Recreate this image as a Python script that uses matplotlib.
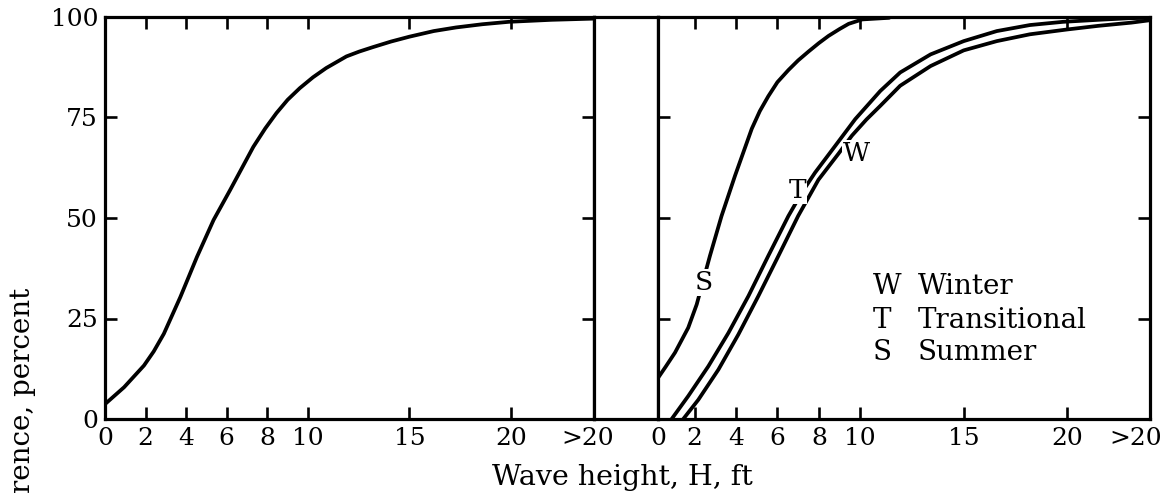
import matplotlib
matplotlib.use("Agg")
import matplotlib.pyplot as plt

plt.rcParams["font.family"] = ["DejaVu Serif"]

# left panel: all seasons together
todo_altura = [0, 0.94, 1.92, 2.4, 2.9, 3.71, 4.53, 5.35, 6.16, 7.31, 7.9, 8.45, 9.0,
               9.6, 10.25, 10.9, 11.9, 12.53, 13.2, 14.1, 15.0, 16.2, 17.3, 18.6,
               19.9, 22.0, 24.1]
todo_pct = [3.7, 7.9, 13.3, 16.8, 21.2, 30.3, 40.3, 49.5, 56.9, 67.7, 72.3, 76.1, 79.4,
            82.3, 85.0, 87.3, 90.2, 91.4, 92.5, 93.9, 95.1, 96.5, 97.4, 98.2,
            98.8, 99.3, 99.6]

# right panel: by season
verano_altura = [0.23, 0.6, 1.05, 1.69, 2.1, 2.74, 3.3, 3.95, 4.76, 5.15, 5.56, 6.0,
                 6.53, 7.0, 7.5, 8.0, 8.47, 9.0, 9.44, 10.1, 11.4]
verano_pct = [10.2, 13.0, 16.5, 22.7, 28.5, 40.6, 50.5, 60.5, 72.2, 76.6, 80.3, 83.8,
              86.8, 89.2, 91.4, 93.5, 95.3, 97.0, 98.3, 99.4, 99.8]

transicion_altura = [0.89, 1.69, 2.66, 3.63, 4.6, 5.56, 6.53, 7.2, 7.82, 8.8, 9.76,
                     10.97, 11.93, 13.4, 15.0, 16.6, 18.2, 19.8, 21.5, 23.0, 24.0]
transicion_pct = [0, 5.7, 13.1, 21.4, 30.6, 40.6, 50.5, 56.5, 61.3, 68.0, 74.6,
                  81.6, 86.2, 90.7, 94.0, 96.5, 98.0, 98.8, 99.3, 99.7, 99.8]

invierno_altura = [1.45, 2.18, 3.15, 4.11, 5.08, 6.05, 7.0, 7.98, 8.95, 9.6, 10.3,
                   10.97, 11.93, 13.4, 15.0, 16.6, 18.2, 20.0, 21.5, 23.1, 24.0]
invierno_pct = [0, 4.8, 12.3, 21.0, 30.6, 40.6, 50.5, 59.5, 66.0, 70.5, 74.5,
                77.9, 82.9, 87.8, 91.7, 94.0, 95.7, 96.9, 97.8, 98.6, 99.2]

ticks_x = [0, 2, 4, 6, 8, 10, 15, 20]
ticks_y = [0, 25, 50, 75, 100]
etiquetas_curvas = [("S", 2.42, 33.9), ("T", 6.98, 56.8), ("W", 9.8, 66.0)]
leyenda = [("W", "Winter"), ("T", "Transitional"), ("S", "Summer")]

ancho, alto = 1164, 499
fig = plt.figure(figsize=(ancho / 100, alto / 100), dpi=100)


def caja(x0, x1, y0=17, y1=419):
    return [x0 / ancho, 1 - y1 / alto, (x1 - x0) / ancho, (y1 - y0) / alto]


ax1 = fig.add_axes(caja(105, 594))
ax_hueco = fig.add_axes(caja(594, 658))
ax2 = fig.add_axes(caja(658, 1150))

for ax in (ax1, ax_hueco, ax2):
    for lado in ax.spines.values():
        lado.set_linewidth(2.3)
        lado.set_color("black")
    ax.set_ylim(0, 100)

ax_hueco.set_xticks([])
ax_hueco.set_yticks([])

estilo = dict(color="black", linewidth=2.7, solid_capstyle="round", solid_joinstyle="round")
ax1.plot(todo_altura, todo_pct, **estilo)
ax2.plot(verano_altura, verano_pct, **estilo)
ax2.plot(transicion_altura, transicion_pct, **estilo)
ax2.plot(invierno_altura, invierno_pct, **estilo)

ax1.set_xlim(0, 24.1)
ax2.set_xlim(0.23, 24.0)

for ax, pos_mayor, pos_cero in ((ax1, 23.8, 0), (ax2, 23.3, 0.23)):
    ax.set_xticks([pos_cero] + ticks_x[1:] + [pos_mayor])
    ax.set_xticklabels(["0"] + [str(t) for t in ticks_x[1:]] + [">20"], fontsize=18)
    ax.set_yticks(ticks_y)
    ax.tick_params(axis="both", which="major", direction="in", length=8.5, width=1.9,
                   top=True, right=True, color="black")
    ax.tick_params(axis="x", pad=6)
    ax.tick_params(axis="y", pad=5)
    for t in (ax.xaxis.get_major_ticks()[0], ax.xaxis.get_major_ticks()[-1]):
        t.tick1line.set_visible(False)
        t.tick2line.set_visible(False)

ax1.set_yticklabels([str(t) for t in ticks_y], fontsize=18)
ax2.set_yticklabels([])

for letra, xh, yp in etiquetas_curvas:
    ax2.text(xh, yp, letra, fontsize=19, ha="center", va="center", zorder=5,
             bbox=dict(facecolor="white", edgecolor="none", pad=0.5))

for i, (letra, nombre) in enumerate(leyenda):
    y = 1 - (287 + 33 * i) / alto
    fig.text(873 / ancho, y, letra, fontsize=20, ha="left", va="center")
    fig.text(918 / ancho, y, nombre, fontsize=20, ha="left", va="center")

fig.text(622 / ancho, 1 - 485 / alto, "Wave height, H, ft", fontsize=20.5,
         ha="center", va="baseline")
fig.text(23 / ancho, 1 - 288 / alto, "rence, percent", fontsize=20,
         rotation=90, ha="center", va="top")

fig.savefig("out.png", dpi=100)
